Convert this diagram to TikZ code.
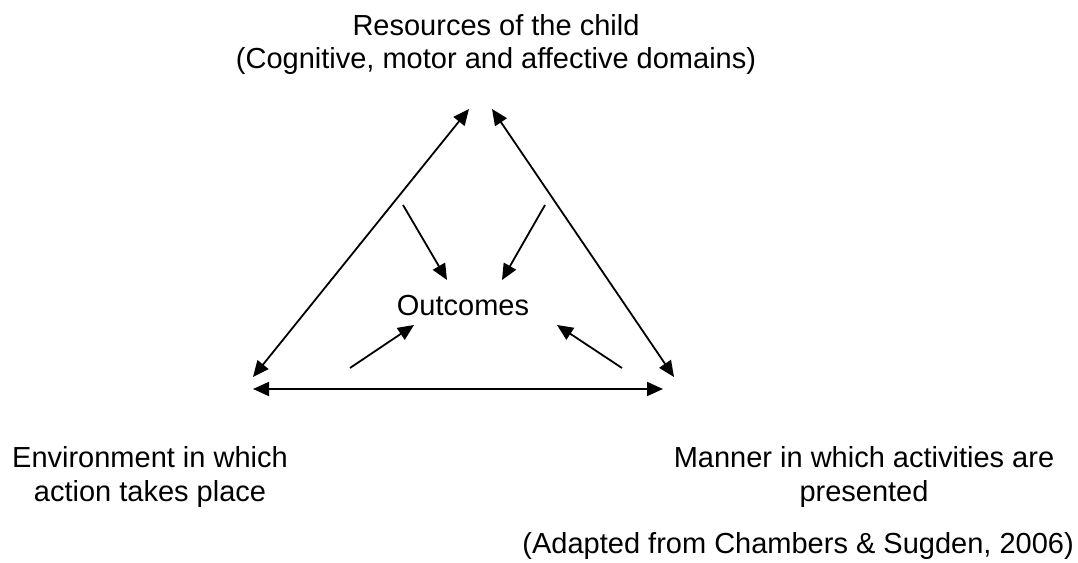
\documentclass[tikz,border=0pt]{standalone}
\usepackage{fontspec}
\setmainfont{Liberation Sans}
\usetikzlibrary{arrows.meta}
\begin{document}
\begin{tikzpicture}[x=1pt,y=-1pt,
  lbl/.style={inner sep=0pt, anchor=base, font=\fontsize{29}{34}\selectfont},
  tip/.style={Triangle[length=16pt,width=14pt]},
  conn/.style={line width=1.8pt, -{Triangle[length=16pt,width=14pt]}},
  dconn/.style={line width=1.8pt, {Triangle[length=16pt,width=14pt]}-{Triangle[length=16pt,width=14pt]}}]
\useasboundingbox (0,0) rectangle (1078,562);
\fill[white] (0,0) rectangle (1078,562);
% labels
\node[lbl] (res1) at (496,35) {Resources of the child};
\node[lbl] (res2) at (496,68) {(Cognitive, motor and affective domains)};
\node[lbl] (out) at (463,315) {Outcomes};
\node[lbl] (env1) at (150,467) {Environment in which};
\node[lbl] (env2) at (150,501) {action takes place};
\node[lbl] (man1) at (864,467) {Manner in which activities are};
\node[lbl] (man2) at (864,501) {presented};
\node[lbl, anchor=base east] (src) at (1074,553) {(Adapted from Chambers \& Sugden, 2006)};
% endpoints
\coordinate (TL) at (469,109);
\coordinate (TR) at (492,109);
\coordinate (LB) at (253,377);
\coordinate (RB) at (674,377);
\coordinate (HL) at (253,389);
\coordinate (HR) at (663,389);
\coordinate (a1) at (403,205); \coordinate (a2) at (447,280);
\coordinate (b1) at (545,205); \coordinate (b2) at (502,280);
\coordinate (c1) at (350,368); \coordinate (c2) at (414,325);
\coordinate (d1) at (622,368); \coordinate (d2) at (557,325);
% connectors
\draw[dconn] (LB) -- (TL);
\draw[dconn] (TR) -- (RB);
\draw[dconn] (HL) -- (HR);
\draw[conn] (a1) -- (a2);
\draw[conn] (b1) -- (b2);
\draw[conn] (c1) -- (c2);
\draw[conn] (d1) -- (d2);
\end{tikzpicture}
\end{document}
